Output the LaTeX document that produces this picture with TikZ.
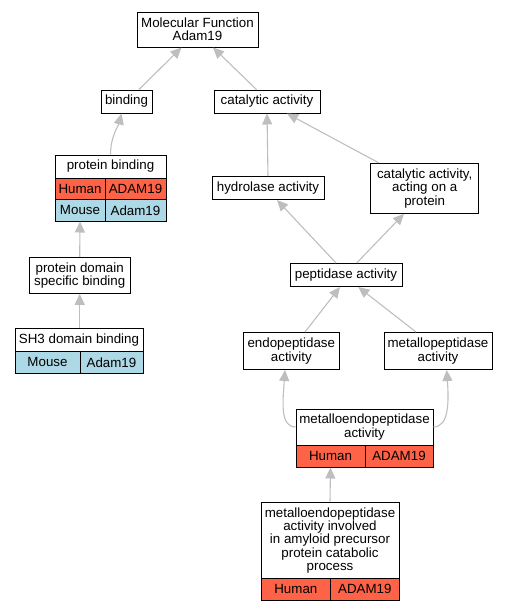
\documentclass[tikz,border=0pt]{standalone}
\usepackage{fontspec}
\setmainfont{Liberation Sans}
\usetikzlibrary{arrows.meta}
\definecolor{humanc}{HTML}{FF6347}
\definecolor{mousec}{HTML}{ADD8E6}
\definecolor{edgec}{HTML}{BEBEBE}
\tikzset{
  box/.style={draw=black, line width=1pt, fill=white, inner sep=0pt, align=center,
    font=\fontsize{13.33}{13.33}\selectfont},
  hcell/.style={box, fill=humanc},
  mcell/.style={box, fill=mousec},
  edge/.style={draw=edgec, line width=1.1pt, -{Triangle[length=11pt,width=10pt]}}
}
\begin{document}
\begin{tikzpicture}[x=1pt,y=-1pt]
\useasboundingbox (0,0) rectangle (507,611);
% nodes
\node[box, minimum width=121pt, minimum height=35pt] (mf) at (197.5,29.5) {Molecular Function\\Adam19};
\node[box, minimum width=51pt, minimum height=23pt] (bind) at (126.5,101.5) {binding};
\node[box, minimum width=106pt, minimum height=23pt] (cat) at (267,101.5) {catalytic activity};
% protein binding table
\node[box, minimum width=111pt, minimum height=23pt] (pb) at (110.5,166.5) {protein binding};
\node[hcell, minimum width=50pt, minimum height=21.5pt] (pbh1) at (80,188.75) {Human};
\node[hcell, minimum width=61pt, minimum height=21.5pt] (pbh2) at (135.5,188.75) {ADAM19};
\node[mcell, minimum width=50pt, minimum height=21.5pt] (pbm1) at (80,210.25) {Mouse};
\node[mcell, minimum width=61pt, minimum height=21.5pt] (pbm2) at (135.5,210.25) {Adam19};
\node[box, minimum width=112pt, minimum height=23pt] (hyd) at (268,188) {hydrolase activity};
\node[box, minimum width=108pt, minimum height=50pt] (cap) at (424.7,188.3) {catalytic activity,\\acting on a\\protein};
\node[box, minimum width=112pt, minimum height=23pt] (pep) at (346,275) {peptidase activity};
\node[box, minimum width=101pt, minimum height=36pt] (pdsb) at (79.7,275.3) {protein domain\\specific binding};
% SH3 table
\node[box, minimum width=128pt, minimum height=23pt] (sh3) at (79,340) {SH3 domain binding};
\node[mcell, minimum width=65pt, minimum height=21.5pt] (sh3m1) at (47.5,362.25) {Mouse};
\node[mcell, minimum width=63pt, minimum height=21.5pt] (sh3m2) at (111.5,362.25) {Adam19};
\node[box, minimum width=96pt, minimum height=37pt] (endo) at (291.3,351) {endopeptidase\\activity};
\node[box, minimum width=108pt, minimum height=37pt] (metp) at (438,351) {metallopeptidase\\activity};
% metalloendopeptidase table
\node[box, minimum width=137pt, minimum height=36pt] (me) at (364.5,427) {metalloendopeptidase\\activity};
\node[hcell, minimum width=69pt, minimum height=22pt] (meh1) at (330.5,456) {Human};
\node[hcell, minimum width=68pt, minimum height=22pt] (meh2) at (399,456) {ADAM19};
% bottom table
\node[box, minimum width=138pt, minimum height=76.5pt] (bot) at (330,540.25) {metalloendopeptidase\\activity involved\\in amyloid precursor\\protein catabolic\\process};
\node[hcell, minimum width=69.7pt, minimum height=21.5pt] (both1) at (295.85,589.25) {Human};
\node[hcell, minimum width=68.3pt, minimum height=21.5pt] (both2) at (364.85,589.25) {ADAM19};
% edges
\draw[edge] ([xshift=12.5pt]bind.north) -- ([xshift=-16pt]mf.south);
\draw[edge] ([xshift=-10.5pt]cat.north) -- ([xshift=15.5pt]mf.south);
\draw[edge] (pb.north) .. controls +(0,-18) and +(-3,12) .. ([xshift=-5pt]bind.south);
\draw[edge] (pdsb.north) -- (pbm1.south);
\draw[edge] ([xshift=0.7pt]sh3.north) -- (pdsb.south);
\draw[edge] (hyd.north) -- (cat.south);
\draw[edge] ([xshift=-46pt]cap.north) -- ([xshift=20pt]cat.south);
\draw[edge] ([xshift=-10pt]pep.north) -- ([xshift=9pt]hyd.south);
\draw[edge] ([xshift=10.7pt]pep.north) -- ([xshift=-20.7pt]cap.south);
\draw[edge] ([xshift=13.7pt]endo.north) -- ([xshift=-6pt]pep.south);
\draw[edge] ([xshift=-22pt]metp.north) -- ([xshift=12.3pt]pep.south);
\draw[edge] (me.west) .. controls +(-16,0) and +(-2,30) .. ([xshift=-6.3pt]endo.south);
\draw[edge] (me.east) .. controls +(16,0) and +(2,30) .. ([xshift=8.7pt]metp.south);
\draw[edge] (bot.north) -- (meh1.south);
\end{tikzpicture}
\end{document}
